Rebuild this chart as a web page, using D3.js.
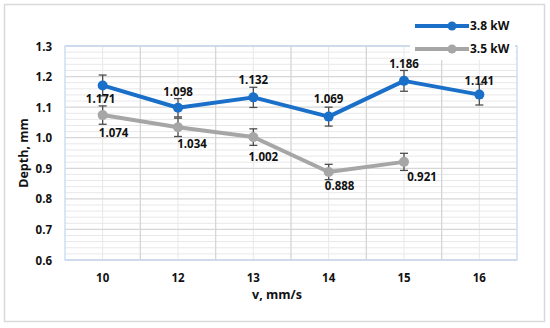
<!DOCTYPE html>
<html>
<head>
<meta charset="utf-8">
<script src="https://cdn.jsdelivr.net/npm/d3@7"></script>
<style>
    body { margin: 0; background: #fff; }
    svg text { font-family: 'Open Sans', sans-serif; font-weight: bold; fill: #111; }
</style>
</head>
<body>
<svg id="chart"></svg>
<script>
const speeds = ['10', '12', '13', '14', '15', '16']
const depth38 = [1.171, 1.098, 1.132, 1.069, 1.186, 1.141]
const err38 = [0.034, 0.030, 0.033, 0.031, 0.034, 0.034]
const depth35 = [1.074, 1.034, 1.002, 0.888, 0.921]
const err35 = [0.030, 0.030, 0.027, 0.025, 0.028]
const yTicks = [0.6, 0.7, 0.8, 0.9, 1.0, 1.1, 1.2, 1.3]

const WIDTH = 550
const HEIGHT = 328
const plot = { left: 65, right: 517, top: 46, bottom: 260 }

const svg = d3.select('#chart')
    .attr('width', WIDTH)
    .attr('height', HEIGHT)

// outer frame
svg.append('rect')
    .attr('x', 4.5).attr('y', 4.5)
    .attr('width', 540).attr('height', 317)
    .attr('fill', '#fff')
    .attr('stroke', '#d9d9d9')
    .attr('stroke-width', 1.5)

const x = d3.scaleBand().domain(speeds).range([plot.left, plot.right])
const y = d3.scaleLinear().domain([0.6, 1.3]).range([plot.bottom, plot.top])
const cx = d => x(d) + x.bandwidth() / 2

// minor horizontal grid
const minor = d3.range(0.62, 1.3, 0.02).filter(v => Math.abs(v * 10 - Math.round(v * 10)) > 0.01)
svg.append('g').selectAll('line').data(minor).join('line')
    .attr('x1', plot.left).attr('x2', plot.right)
    .attr('y1', d => y(d)).attr('y2', d => y(d))
    .attr('stroke', '#e8e8e8').attr('stroke-width', 1)

// minor vertical grid at category centers
svg.append('g').selectAll('line').data(speeds).join('line')
    .attr('x1', d => cx(d)).attr('x2', d => cx(d))
    .attr('y1', plot.top).attr('y2', plot.bottom)
    .attr('stroke', '#e8e8e8').attr('stroke-width', 1)

// major grid
svg.append('g').selectAll('line').data(yTicks).join('line')
    .attr('x1', plot.left).attr('x2', plot.right)
    .attr('y1', d => y(d)).attr('y2', d => y(d))
    .attr('stroke', '#d6d6d6').attr('stroke-width', 1.3)

svg.append('g').selectAll('line').data(speeds.slice(1)).join('line')
    .attr('x1', d => x(d)).attr('x2', d => x(d))
    .attr('y1', plot.top).attr('y2', plot.bottom)
    .attr('stroke', '#d6d6d6').attr('stroke-width', 1.3)

// plot area border
svg.append('rect')
    .attr('x', plot.left).attr('y', plot.top)
    .attr('width', plot.right - plot.left).attr('height', plot.bottom - plot.top)
    .attr('fill', 'none')
    .attr('stroke', '#c6d9f0')
    .attr('stroke-width', 1.3)

// axes
const yAxis = svg.append('g')
    .attr('transform', `translate(${plot.left - 13},0)`)
    .call(d3.axisLeft(y).tickValues(yTicks).tickFormat(d3.format('.1f')).tickSize(0))
yAxis.select('.domain').remove()
yAxis.selectAll('text').attr('font-size', 11.5).attr('dy', '0.35em').attr('x', 0)

const xAxis = svg.append('g')
    .attr('transform', `translate(0,${plot.bottom + 13})`)
    .call(d3.axisBottom(x).tickSize(0))
xAxis.select('.domain').remove()
xAxis.selectAll('text').attr('font-size', 11.5).attr('dy', '0.35em').attr('y', 5)

svg.append('text')
    .attr('transform', `translate(24,${(plot.top + plot.bottom) / 2}) rotate(-90)`)
    .attr('text-anchor', 'middle')
    .attr('dy', '0.35em')
    .attr('font-size', 12.5)
    .text('Depth, mm')

svg.append('text')
    .attr('x', 277).attr('y', 295)
    .attr('text-anchor', 'middle')
    .attr('dy', '0.35em')
    .attr('font-size', 12.5)
    .text('v, mm/s')

// legend background covers grid
svg.append('rect')
    .attr('x', 410).attr('y', 12)
    .attr('width', 105).attr('height', 48)
    .attr('fill', '#fff')

const series = [
    { name: '3.8 kW', values: depth38, errors: err38, color: '#1a6fc9',
        labelDx: [-2, 0, 0, 0, 0, 0], labelDy: [14, -16, -17, -18, -17, -14] },
    { name: '3.5 kW', values: depth35, errors: err35, color: '#a6a6a6',
        labelDx: [11, 14, 10, 11, 18], labelDy: [18, 17, 20, 14, 15] },
]

const line = d3.line()
    .x(d => cx(d.cat))
    .y(d => y(d.v))

// draw gray first so blue sits on top
for (const s of [...series].reverse()) {
    const pts = s.values.map((v, i) => ({ cat: speeds[i], v, e: s.errors[i], i }))
    const g = svg.append('g')

    g.append('path')
        .datum(pts)
        .attr('d', line)
        .attr('fill', 'none')
        .attr('stroke', s.color)
        .attr('stroke-width', 4)
        .attr('stroke-linejoin', 'round')

    const eb = g.append('g').selectAll('g').data(pts).join('g')
        .attr('stroke', '#4d4d4d').attr('stroke-width', 1.3)
    eb.append('line')
        .attr('x1', d => cx(d.cat)).attr('x2', d => cx(d.cat))
        .attr('y1', d => y(d.v - d.e)).attr('y2', d => y(d.v + d.e))
    eb.append('line')
        .attr('x1', d => cx(d.cat) - 4).attr('x2', d => cx(d.cat) + 4)
        .attr('y1', d => y(d.v + d.e)).attr('y2', d => y(d.v + d.e))
    eb.append('line')
        .attr('x1', d => cx(d.cat) - 4).attr('x2', d => cx(d.cat) + 4)
        .attr('y1', d => y(d.v - d.e)).attr('y2', d => y(d.v - d.e))

    g.append('g').selectAll('circle').data(pts).join('circle')
        .attr('cx', d => cx(d.cat)).attr('cy', d => y(d.v))
        .attr('r', 5)
        .attr('fill', s.color)

    g.append('g').selectAll('text').data(pts).join('text')
        .attr('x', d => cx(d.cat) + s.labelDx[d.i])
        .attr('y', d => y(d.v) + s.labelDy[d.i])
        .attr('text-anchor', 'middle')
        .attr('dy', '0.35em')
        .attr('font-size', 11.5)
        .text(d => d3.format('.3f')(d.v))
}

// legend
const legend = svg.append('g').selectAll('g').data(series).join('g')
    .attr('transform', (d, i) => `translate(0,${26 + i * 23})`)
legend.append('line')
    .attr('x1', 415).attr('x2', 469).attr('y1', 0).attr('y2', 0)
    .attr('stroke', d => d.color).attr('stroke-width', 4)
legend.append('circle')
    .attr('cx', 452).attr('cy', 0).attr('r', 4.5)
    .attr('fill', d => d.color)
legend.append('text')
    .attr('x', 470).attr('y', 0)
    .attr('dy', '0.35em')
    .attr('font-size', 12)
    .text(d => d.name)
</script>
</body>
</html>
